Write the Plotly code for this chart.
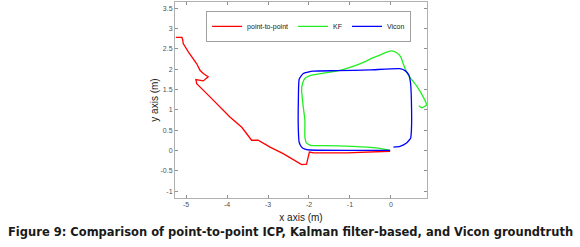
import plotly.graph_objects as go

# Data (metres)
red_x = [-5.25, -5.10, -5.08, -5.07, -4.94, -4.82, -4.74, -4.66, -4.58, -4.46,
         -4.58, -4.76, -4.74, -4.41, -4.17, -3.93, -3.64, -3.40, -3.24, -2.95,
         -2.63, -2.34, -2.18, -2.06, -1.99, -1.89, -1.08, -0.02]
red_y = [2.78, 2.78, 2.71, 2.63, 2.42, 2.26, 2.13, 1.97, 1.89, 1.81,
         1.71, 1.74, 1.64, 1.31, 1.07, 0.82, 0.57, 0.25, 0.25, 0.08,
         -0.08, -0.25, -0.35, -0.34, -0.04, -0.06, -0.06, -0.02]

green_x = [-0.02, -0.35, -0.92, -1.65, -1.95, -2.06, -2.10, -2.10, -2.14, -2.18,
           -2.16, -2.10, -1.93, -1.24, -0.76, -0.43, -0.10, 0.02, 0.14, 0.24,
           0.30, 0.38, 0.46, 0.63, 0.79, 0.87, 0.82, 0.75, 0.68]
green_y = [0.00, 0.06, 0.10, 0.12, 0.12, 0.18, 0.33, 0.74, 1.07, 1.48,
           1.64, 1.77, 1.85, 1.97, 2.13, 2.28, 2.42, 2.45, 2.40, 2.30,
           2.13, 1.93, 1.80, 1.58, 1.31, 1.13, 1.08, 1.05, 1.10]

blue_x = [-0.02, -1.00, -1.98, -2.10, -2.18, -2.24, -2.26, -2.26, -2.24, -2.14,
          -1.90, -1.33, -0.50, 0.22, 0.36, 0.44, 0.48, 0.50, 0.50, 0.48,
          0.38, 0.22, 0.06]
blue_y = [0.00, 0.00, 0.01, 0.03, 0.08, 0.20, 0.50, 1.20, 1.75, 1.89,
          1.95, 1.96, 1.98, 2.01, 1.95, 1.85, 1.64, 1.20, 0.50, 0.30,
          0.18, 0.10, 0.08]

series_names = ["point-to-point", "KF", "Vicon"]

x_tickvals = [-5, -4, -3, -2, -1, 0]
x_ticktext = ["-5", "-4", "-3", "-2", "-1", "0"]
y_tickvals = [-1, -0.5, 0, 0.5, 1, 1.5, 2, 2.5, 3, 3.5]
y_ticktext = ["-1", "-0.5", "0", "0.5", "1", "1.5", "2", "2.5", "3", "3.5"]

caption = "Figure 9: Comparison of point-to-point ICP, Kalman filter-based, and Vicon groundtruth"

fig = go.Figure()
fig.add_trace(go.Scatter(x=red_x, y=red_y, mode="lines", name=series_names[0],
                         line=dict(color="#ff0000", width=1.3)))
fig.add_trace(go.Scatter(x=green_x, y=green_y, mode="lines", name=series_names[1],
                         line=dict(color="#22ee22", width=1.3, shape="spline", smoothing=0.4)))
fig.add_trace(go.Scatter(x=blue_x, y=blue_y, mode="lines", name=series_names[2],
                         line=dict(color="#0000ff", width=1.3, shape="spline", smoothing=0.4)))

axis_common = dict(
    showline=True, mirror="ticks", linecolor="#b0b0b0", linewidth=1,
    ticks="inside", ticklen=3, tickcolor="#909090",
    showgrid=False, zeroline=False,
    tickfont=dict(family="Liberation Sans", size=7, color="#505050"),
)

fig.update_layout(
    width=580, height=247,
    margin=dict(l=175, r=153, t=2, b=49),
    paper_bgcolor="white", plot_bgcolor="white",
    xaxis=dict(range=[-5.27, 0.88], tickvals=x_tickvals, ticktext=x_ticktext,
               title=dict(text="x axis (m)", standoff=6,
                          font=dict(family="Liberation Sans", size=10, color="#202020")),
               **axis_common),
    yaxis=dict(range=[-1.17, 3.65], tickvals=y_tickvals, ticktext=y_ticktext,
               title=dict(text="y axis (m)", standoff=0,
                          font=dict(family="Liberation Sans", size=10, color="#202020")),
               **axis_common),
    legend=dict(orientation="h", x=0.937, xanchor="right", y=0.955, yanchor="top",
                bgcolor="white", bordercolor="#a0a0a0", borderwidth=1,
                font=dict(family="Liberation Sans", size=7, color="#202020"),
                itemwidth=30, tracegroupgap=0),
    showlegend=True,
)

fig.add_annotation(text="<b>" + caption + "</b>", xref="paper", yref="paper",
                   x=(290 - 175) / 252, y=-34 / 196, xanchor="center", yanchor="middle",
                   showarrow=False,
                   font=dict(family="DejaVu Sans", size=11.5, color="#1a1a1a"))

fig.write_html("out.html", config={"displayModeBar": False},
               post_script="document.body.style.margin='0';")
